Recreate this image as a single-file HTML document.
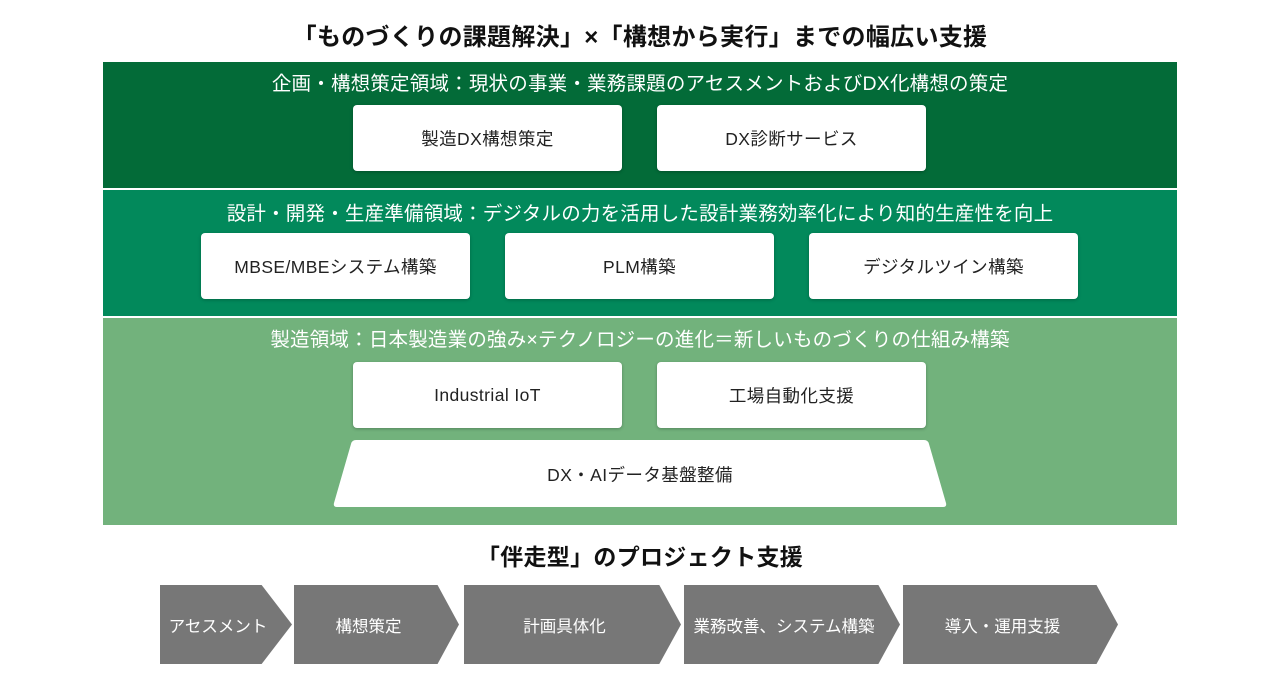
<!DOCTYPE html>
<html><head><meta charset="utf-8"><style>
*{margin:0;padding:0;box-sizing:border-box}
body{width:1280px;height:700px;background:#fff;position:relative;overflow:hidden;font-family:"Liberation Sans","Noto Sans CJK JP",sans-serif}
.abs{position:absolute}
.t{position:absolute;left:0;width:1280px;text-align:center;color:#111;font-size:24px;font-weight:bold;letter-spacing:0.3px}
.band{position:absolute;left:103px;width:1074px}
.h{position:absolute;left:0;width:100%;text-align:center;color:#fff;font-size:19.5px;letter-spacing:0.2px}
.box{position:absolute;background:#fff;border-radius:4px;box-shadow:0 1px 3px rgba(0,0,0,.25);display:flex;align-items:center;justify-content:center;font-size:17.5px;letter-spacing:0.4px;color:#222;width:269px;height:66px}
.arr{position:absolute;top:585px;height:79px;background:#777;color:#fff;font-size:16.5px;display:flex;align-items:center;justify-content:center}
</style></head><body>
<div class="t" style="top:17px">「ものづくりの課題解決」×「構想から実行」までの幅広い支援</div>
<div class="band" style="top:62px;height:126px;background:#036b38">
<div class="h" style="top:5px">企画・構想策定領域：現状の事業・業務課題のアセスメントおよびDX化構想の策定</div>
<div class="box" style="left:250px;top:43px">製造DX構想策定</div>
<div class="box" style="left:554px;top:43px">DX診断サービス</div>
</div>
<div class="band" style="top:190px;height:126px;background:#02895b">
<div class="h" style="top:7px">設計・開発・生産準備領域：デジタルの力を活用した設計業務効率化により知的生産性を向上</div>
<div class="box" style="left:98px;top:43px">MBSE/MBEシステム構築</div>
<div class="box" style="left:402px;top:43px">PLM構築</div>
<div class="box" style="left:706px;top:43px">デジタルツイン構築</div>
</div>
<div class="band" style="top:318px;height:207px;background:#72b27c">
<div class="h" style="top:5px">製造領域：日本製造業の強み×テクノロジーの進化＝新しいものづくりの仕組み構築</div>
<div class="box" style="left:250px;top:44px">Industrial IoT</div>
<div class="box" style="left:554px;top:44px">工場自動化支援</div>
</div>
<svg class="abs" style="left:0;top:0" width="1280" height="700">
<path d="M356 440 L924 440 Q928 440 929 444 L946 503 Q947 507 943 507 L337 507 Q333 507 334 503 L351 444 Q352 440 356 440 Z" fill="#fff"/>
<text x="640" y="481" text-anchor="middle" font-size="17.5" letter-spacing="0.4" fill="#222" font-family="Liberation Sans,Noto Sans CJK JP,sans-serif">DX・AIデータ基盤整備</text>
</svg>
<div class="t" style="top:538px;font-size:23px">「伴走型」のプロジェクト支援</div>
<div class="arr" style="left:160px;width:132px;clip-path:polygon(0 0,77% 0,100% 50%,77% 100%,0 100%);padding-right:16px">アセスメント</div>
<div class="arr" style="left:294px;width:165px;clip-path:polygon(0 0,87% 0,100% 50%,87% 100%,0 100%);padding-right:16px">構想策定</div>
<div class="arr" style="left:464px;width:217px;clip-path:polygon(0 0,90% 0,100% 50%,90% 100%,0 100%);padding-right:16px">計画具体化</div>
<div class="arr" style="left:684px;width:216px;clip-path:polygon(0 0,90% 0,100% 50%,90% 100%,0 100%);padding-right:16px">業務改善、システム構築</div>
<div class="arr" style="left:903px;width:215px;clip-path:polygon(0 0,90% 0,100% 50%,90% 100%,0 100%);padding-right:16px">導入・運用支援</div>
</body></html>
